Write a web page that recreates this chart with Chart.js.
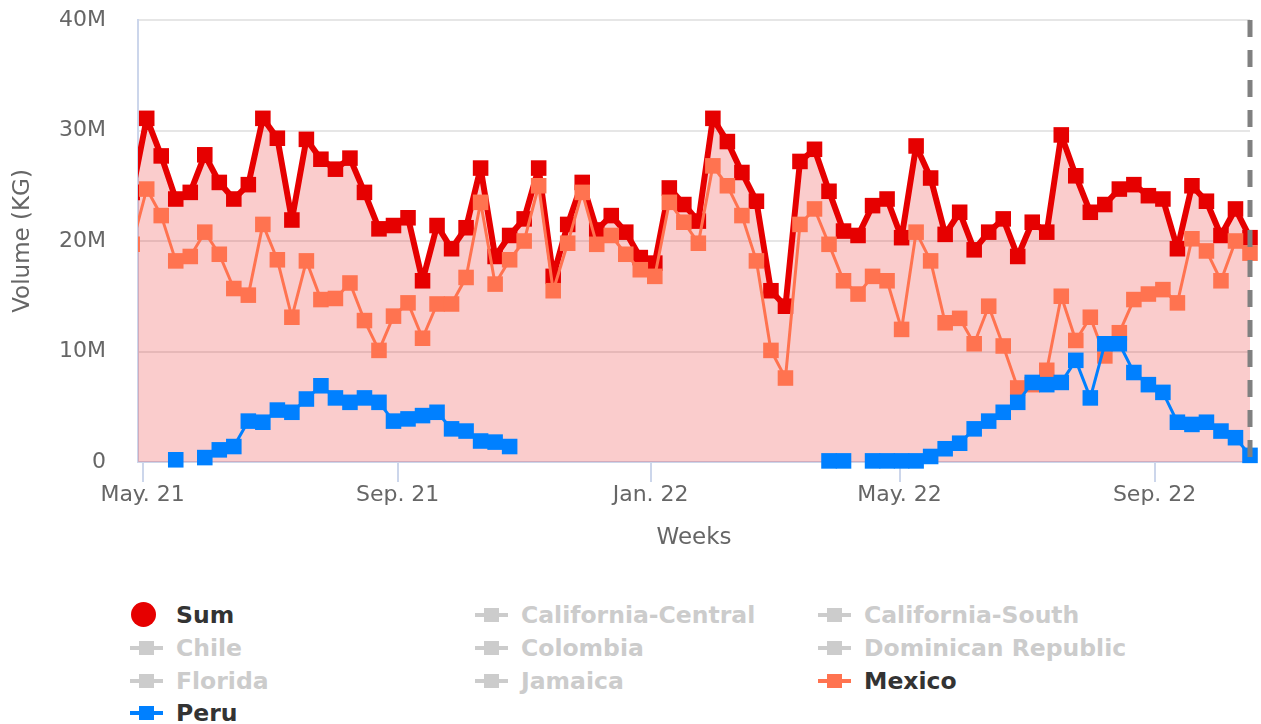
<!DOCTYPE html>
<html>
<head>
<meta charset="utf-8">
<script src="https://cdn.jsdelivr.net/npm/chart.js@4.4.1/dist/chart.umd.min.js"></script>
<style>
html, body { margin: 0; padding: 0; background: #fff; }
#wrap { position: relative; width: 1261px; height: 724px; overflow: hidden; font-family: "DejaVu Sans", sans-serif; }
#box { position: absolute; left: 0; top: 0; width: 1261px; height: 580px; }
.leg { position: absolute; height: 32px; line-height: 32px; font-size: 23.5px; font-weight: bold; white-space: nowrap; padding-left: 46px; }
.leg .ln { position: absolute; left: 0; top: 14px; width: 33px; height: 4px; }
.leg .sq { position: absolute; left: 9px; top: 9px; width: 15px; height: 14px; }
.leg .dot { position: absolute; left: 1px; top: 3px; width: 25px; height: 25px; border-radius: 50%; }
</style>
</head>
<body>
<div id="wrap">
  <div id="box"><canvas id="grafico"></canvas></div>
  <div id="legenda"></div>
</div>
<script>
// x axis is in days counted from 1 May 2021, one point per week
const tickDays = [0, 123, 245, 365, 488];
const tickLabels = ["May. 21", "Sep. 21", "Jan. 22", "May. 22", "Sep. 22"];
const firstWeekDay = -5;
const currentWeekDay = 534;

// weekly volumes, millions of KG
const sumKg = [24.4,
  31.1, 27.7, 23.8, 24.4, 27.8, 25.3, 23.8, 25.1, 31.1, 29.3,
  21.9, 29.2, 27.4, 26.5, 27.5, 24.4, 21.1, 21.4, 22.1, 16.4,
  21.4, 19.3, 21.2, 26.6, 18.6, 20.5, 22.0, 26.6, 16.8, 21.5,
  25.3, 21.0, 22.3, 20.8, 18.5, 18.0, 24.8, 23.3, 21.8, 31.1,
  29.0, 26.2, 23.6, 15.5, 14.1, 27.2, 28.3, 24.5, 20.9, 20.5,
  23.2, 23.8, 20.3, 28.6, 25.7, 20.6, 22.6, 19.2, 20.8, 22.0,
  18.6, 21.7, 20.8, 29.6, 25.9, 22.6, 23.3, 24.7, 25.1, 24.1,
  23.8, 19.3, 25.0, 23.6, 20.5, 22.9, 20.3];

const mexicoKg = [19.7,
  24.7, 22.3, 18.2, 18.6, 20.8, 18.8, 15.7, 15.1, 21.5, 18.3,
  13.1, 18.2, 14.7, 14.8, 16.2, 12.8, 10.1, 13.2, 14.4, 11.2,
  14.3, 14.3, 16.7, 23.5, 16.1, 18.3, 20.0, 25.0, 15.5, 19.8,
  24.4, 19.7, 20.5, 18.8, 17.4, 16.8, 23.5, 21.7, 19.8, 26.8,
  25.0, 22.3, 18.2, 10.1, 7.6, 21.5, 22.9, 19.7, 16.4, 15.2,
  16.8, 16.4, 12.0, 20.8, 18.2, 12.6, 13.0, 10.7, 14.1, 10.5,
  6.7, 7.0, 8.3, 15.0, 11.0, 13.1, 9.6, 11.7, 14.7, 15.2,
  15.6, 14.4, 20.2, 19.1, 16.4, 20.0, 18.9];

const peruKg = [null,
  null, null, 0.2, null, 0.4, 1.1, 1.4, 3.7, 3.6, 4.7,
  4.5, 5.7, 6.9, 5.8, 5.4, 5.8, 5.4, 3.7, 3.9, 4.2,
  4.5, 3.0, 2.8, 1.9, 1.8, 1.4, null, null, null, null,
  null, null, null, null, null, null, null, null, null, null,
  null, null, null, null, null, null, null, 0.1, 0.1, null,
  0.1, 0.1, 0.1, 0.1, 0.5, 1.2, 1.7, 3.0, 3.7, 4.5,
  5.4, 7.2, 7.0, 7.2, 9.2, 5.8, 10.7, 10.7, 8.1, 7.0,
  6.3, 3.6, 3.4, 3.6, 2.8, 2.2, 0.6];

const legendNames = ["Sum", "California-Central", "California-South", "Chile", "Colombia",
  "Dominican Republic", "Florida", "Jamaica", "Mexico", "Peru"];
const legendColors = { "Sum": "#e60000", "Mexico": "#ff7350", "Peru": "#0080ff" };

function paraPontos(valores) {
  return valores.map((v, i) => ({ x: firstWeekDay + i * 7, y: v }));
}

function serie(nome, valores, cor, largura, ordem, extra) {
  return Object.assign({
    label: nome,
    data: paraPontos(valores),
    borderColor: cor,
    backgroundColor: cor,
    borderWidth: largura,
    borderJoinStyle: "round",
    pointStyle: "rect",
    pointRadius: 11,
    pointHoverRadius: 11,
    pointBackgroundColor: cor,
    pointBorderWidth: 0,
    tension: 0,
    fill: false,
    order: ordem,
    clip: { left: 0, top: false, right: 20, bottom: 20 }
  }, extra || {});
}

const linhaSemana = {
  id: "linhaSemana",
  afterDatasetsDraw(chart) {
    const { ctx, chartArea, scales } = chart;
    const x = scales.x.getPixelForValue(currentWeekDay);
    ctx.save();
    ctx.strokeStyle = "#808080";
    ctx.lineWidth = 5;
    ctx.setLineDash([17, 13]);
    ctx.beginPath();
    ctx.moveTo(x, chartArea.top);
    ctx.lineTo(x, chartArea.bottom);
    ctx.stroke();
    ctx.restore();
  }
};

const fonteEixo = { family: "DejaVu Sans", size: 22 };
const fonteTitulo = { family: "DejaVu Sans", size: 23 };

new Chart(document.getElementById("grafico"), {
  type: "line",
  data: {
    datasets: [
      serie("Sum", sumKg, "#e60000", 6, 3, { fill: "origin", backgroundColor: "rgba(230,0,0,0.2)" }),
      serie("Mexico", mexicoKg, "#ff7350", 3, 2),
      serie("Peru", peruKg, "#0080ff", 3, 1)
    ]
  },
  options: {
    responsive: true,
    maintainAspectRatio: false,
    animation: false,
    layout: { padding: 0 },
    plugins: {
      legend: { display: false },
      tooltip: { enabled: false },
      filler: { drawTime: "beforeDatasetsDraw" }
    },
    scales: {
      x: {
        type: "linear",
        min: -2.2,
        max: currentWeekDay,
        afterBuildTicks: (s) => { s.ticks = tickDays.map(v => ({ value: v })); },
        afterFit: (s) => { s.height = 118; s.paddingLeft = 0; s.paddingRight = 8; },
        ticks: {
          autoSkip: false,
          maxRotation: 0,
          padding: 0,
          color: "#666666",
          font: fonteEixo,
          callback: (v, i) => tickLabels[i]
        },
        grid: { drawOnChartArea: false, drawTicks: true, tickLength: 20, color: "#ccd6eb", lineWidth: 2 },
        border: { color: "#ccd6eb", width: 2 },
        title: { display: true, text: "Weeks", color: "#666666", font: fonteTitulo, padding: { top: 0, bottom: 28 } }
      },
      y: {
        min: 0,
        max: 40,
        afterFit: (s) => { s.width = 138; s.paddingTop = 20; s.paddingBottom = 0; },
        ticks: {
          stepSize: 10,
          padding: 32,
          color: "#666666",
          font: fonteEixo,
          callback: (v) => v === 0 ? "0" : v + "M"
        },
        grid: { color: "#e6e6e6", lineWidth: 2, drawTicks: false },
        border: { color: "#ccd6eb", width: 2 },
        title: { display: true, text: "Volume (KG)", color: "#666666", font: fonteTitulo, padding: { top: 9, bottom: 0 } }
      }
    }
  },
  plugins: [linhaSemana]
});

// legenda em tres colunas, series escondidas em cinza
const colunasX = [130, 475, 818];
const linhasY = [615, 648, 681, 713];
const legenda = document.getElementById("legenda");
legendNames.forEach((nome, i) => {
  const cor = legendColors[nome];
  const item = document.createElement("div");
  item.className = "leg";
  item.style.left = colunasX[i % 3] + "px";
  item.style.top = (linhasY[Math.floor(i / 3)] - 16) + "px";
  item.style.color = cor ? "#333333" : "#cccccc";
  if (nome === "Sum") {
    item.innerHTML = '<span class="dot" style="background:' + cor + '"></span>' + nome;
  } else {
    const c = cor || "#cccccc";
    item.innerHTML = '<span class="ln" style="background:' + c + '"></span><span class="sq" style="background:' + c + '"></span>' + nome;
  }
  legenda.appendChild(item);
});
</script>
</body>
</html>
